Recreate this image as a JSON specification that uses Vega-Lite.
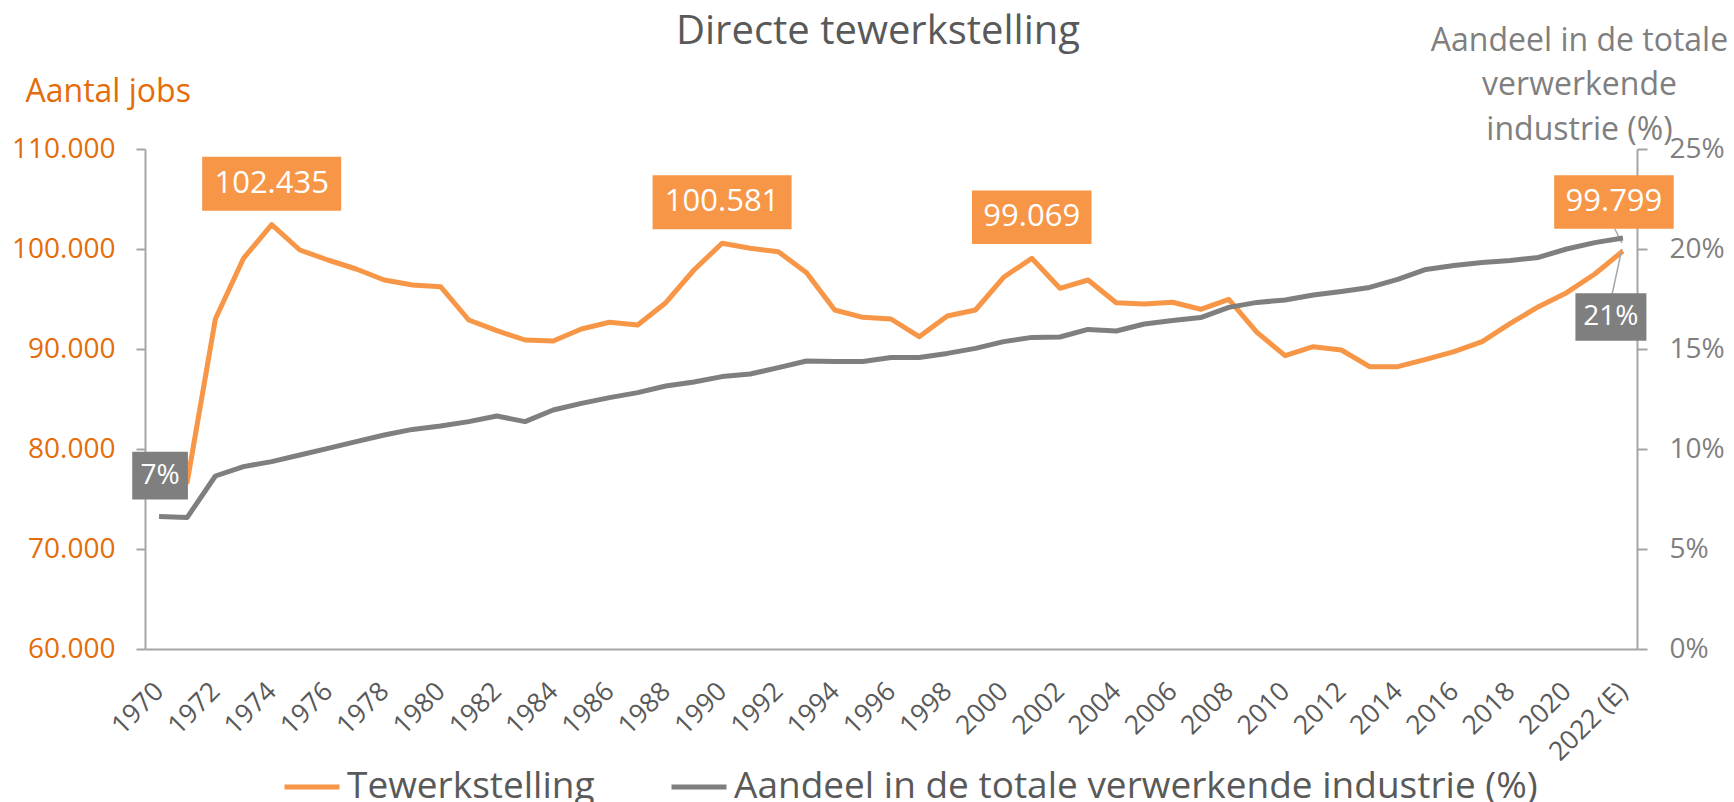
{
  "$schema": "https://vega.github.io/schema/vega-lite/v6.json",
  "width": 1492,
  "height": 500,
  "autosize": {"type": "none"},
  "padding": {"left": 145, "top": 149, "right": 97, "bottom": 153},
  "background": "white",
  "config": {
    "view": {"stroke": null},
    "font": "Open Sans",
    "locale": {"number": {"decimal": ",", "thousands": ".", "grouping": [3], "currency": ["€", ""]}}
  },
  "title": {
    "text": "Directe tewerkstelling",
    "font": "Open Sans",
    "fontSize": 40,
    "fontWeight": "normal",
    "color": "#595959",
    "anchor": "middle",
    "frame": "group",
    "baseline": "alphabetic",
    "dx": -13,
    "offset": -60
  },
  "data": {
    "values": [
      {"year": "1970", "jobs": 76600, "share": 0.0662},
      {"year": "1971", "jobs": 76700, "share": 0.0658},
      {"year": "1972", "jobs": 93000, "share": 0.0865},
      {"year": "1973", "jobs": 99070, "share": 0.0912},
      {"year": "1974", "jobs": 102435, "share": 0.0937},
      {"year": "1975", "jobs": 99900, "share": 0.097},
      {"year": "1976", "jobs": 98900, "share": 0.1003},
      {"year": "1977", "jobs": 98000, "share": 0.1037},
      {"year": "1978", "jobs": 96900, "share": 0.107},
      {"year": "1979", "jobs": 96400, "share": 0.1098},
      {"year": "1980", "jobs": 96230, "share": 0.1115},
      {"year": "1981", "jobs": 92900, "share": 0.1137},
      {"year": "1982", "jobs": 91830, "share": 0.1165},
      {"year": "1983", "jobs": 90900, "share": 0.1137},
      {"year": "1984", "jobs": 90800, "share": 0.1195},
      {"year": "1985", "jobs": 92000, "share": 0.1228},
      {"year": "1986", "jobs": 92670, "share": 0.1257},
      {"year": "1987", "jobs": 92400, "share": 0.1282},
      {"year": "1988", "jobs": 94630, "share": 0.1315},
      {"year": "1989", "jobs": 97900, "share": 0.1335},
      {"year": "1990", "jobs": 100581, "share": 0.1362},
      {"year": "1991", "jobs": 100070, "share": 0.1375},
      {"year": "1992", "jobs": 99730, "share": 0.1407},
      {"year": "1993", "jobs": 97630, "share": 0.144},
      {"year": "1994", "jobs": 93900, "share": 0.1438},
      {"year": "1995", "jobs": 93170, "share": 0.1437},
      {"year": "1996", "jobs": 93000, "share": 0.1457},
      {"year": "1997", "jobs": 91230, "share": 0.1458},
      {"year": "1998", "jobs": 93300, "share": 0.1478},
      {"year": "1999", "jobs": 93900, "share": 0.1503},
      {"year": "2000", "jobs": 97170, "share": 0.1537},
      {"year": "2001", "jobs": 99069, "share": 0.1558},
      {"year": "2002", "jobs": 96070, "share": 0.156},
      {"year": "2003", "jobs": 96900, "share": 0.1598},
      {"year": "2004", "jobs": 94630, "share": 0.159},
      {"year": "2005", "jobs": 94500, "share": 0.1625},
      {"year": "2006", "jobs": 94670, "share": 0.1642},
      {"year": "2007", "jobs": 93970, "share": 0.1657},
      {"year": "2008", "jobs": 94970, "share": 0.1708},
      {"year": "2009", "jobs": 91670, "share": 0.1733},
      {"year": "2010", "jobs": 89330, "share": 0.1745},
      {"year": "2011", "jobs": 90230, "share": 0.177},
      {"year": "2012", "jobs": 89900, "share": 0.1788},
      {"year": "2013", "jobs": 88230, "share": 0.1808},
      {"year": "2014", "jobs": 88230, "share": 0.1848},
      {"year": "2015", "jobs": 88970, "share": 0.1898},
      {"year": "2016", "jobs": 89730, "share": 0.1917},
      {"year": "2017", "jobs": 90730, "share": 0.1933},
      {"year": "2018", "jobs": 92570, "share": 0.1942},
      {"year": "2019", "jobs": 94230, "share": 0.1958},
      {"year": "2020", "jobs": 95630, "share": 0.2},
      {"year": "2021", "jobs": 97500, "share": 0.2032},
      {"year": "2022 (E)", "jobs": 99799, "share": 0.2055}
    ]
  },
  "encoding": {
    "x": {
      "field": "year",
      "type": "ordinal",
      "sort": null,
      "scale": {"type": "point", "padding": 0.5},
      "axis": {
        "title": null,
        "values": ["1970","1972","1974","1976","1978","1980","1982","1984","1986","1988","1990","1992","1994","1996","1998","2000","2002","2004","2006","2008","2010","2012","2014","2016","2018","2020","2022 (E)"],
        "labelAngle": -45,
        "labelAlign": "right",
        "labelBaseline": "middle",
        "labelPadding": 38,
        "labelFontSize": 26.5,
        "labelFont": "Open Sans",
        "labelColor": "#595959",
        "ticks": false,
        "domainColor": "#A6A6A6",
        "domainWidth": 2,
        "grid": false
      }
    }
  },
  "layer": [
    {
      "encoding": {
        "y": {
          "field": "jobs",
          "type": "quantitative",
          "scale": {"domain": [60000, 110000], "nice": false, "zero": false},
          "axis": {
            "orient": "left",
            "values": [60000, 70000, 80000, 90000, 100000, 110000],
            "format": ",d",
            "grid": false,
            "labelFontSize": 28,
            "labelFont": "Open Sans",
            "labelColor": "#E46C0A",
            "labelPadding": 21,
            "tickSize": 9,
            "tickWidth": 2,
            "tickColor": "#A6A6A6",
            "domainColor": "#A6A6A6",
            "domainWidth": 2,
            "title": "Aantal jobs",
            "titleFont": "Open Sans",
            "titleFontSize": 32,
            "titleFontWeight": "normal",
            "titleColor": "#E46C0A",
            "titleAngle": 0,
            "titleAlign": "left",
            "titleBaseline": "alphabetic",
            "titleX": -120,
            "titleY": -48
          }
        }
      },
      "layer": [
        {
          "mark": {"type": "line", "strokeWidth": 5, "strokeJoin": "round", "strokeCap": "butt"},
          "encoding": {
            "color": {
              "datum": "Tewerkstelling",
              "type": "nominal",
              "scale": {"domain": ["Tewerkstelling", "Aandeel in de totale verwerkende industrie (%)"], "range": ["#F79646", "#7F7F7F"]},
              "legend": {
                "orient": "none",
                "legendX": 137,
                "legendY": 608,
                "direction": "horizontal",
                "title": null,
                "symbolType": "stroke",
                "symbolStrokeWidth": 5,
                "symbolSize": 3025,
                "labelFont": "Open Sans",
                "labelFontSize": 37,
                "labelColor": "#595959",
                "labelLimit": 1200,
                "labelOffset": 5,
                "columnPadding": 66
              }
            }
          }
        },
        {
          "transform": [{"filter": {"field": "year", "equal": "2022 (E)"}}],
          "mark": {"type": "rule", "color": "#A6A6A6", "strokeWidth": 1.5, "xOffset": -1, "yOffset": -8, "x2Offset": -8, "y2Offset": -22},
          "encoding": {"x2": {"field": "year"}, "y2": {"field": "jobs"}}
        },
        {
          "transform": [{"filter": {"field": "year", "equal": "2022 (E)"}}],
          "mark": {"type": "rule", "color": "#A6A6A6", "strokeWidth": 1.5, "xOffset": -1, "yOffset": -2, "x2Offset": -11, "y2Offset": 44},
          "encoding": {"x2": {"field": "year"}, "y2": {"field": "jobs"}}
        },
        {
          "transform": [{"filter": {"field": "year", "oneOf": ["1974", "1990"]}}],
          "mark": {"type": "point", "shape": "M-1,-0.3885H1V0.3885H-1Z", "size": 19321, "filled": true, "color": "#F79646", "opacity": 1, "strokeWidth": 0, "yOffset": -41}
        },
        {
          "transform": [{"filter": {"field": "year", "equal": "2001"}}],
          "mark": {"type": "point", "shape": "M-1,-0.4477H1V0.4477H-1Z", "size": 14280, "filled": true, "color": "#F79646", "opacity": 1, "strokeWidth": 0, "yOffset": -41}
        },
        {
          "transform": [{"filter": {"field": "year", "equal": "2022 (E)"}}],
          "mark": {"type": "point", "shape": "M-1,-0.4477H1V0.4477H-1Z", "size": 14280, "filled": true, "color": "#F79646", "opacity": 1, "strokeWidth": 0, "xOffset": -9, "yOffset": -49}
        },
        {
          "transform": [{"filter": {"field": "year", "oneOf": ["1974", "1990", "2001"]}}],
          "mark": {"type": "text", "font": "Open Sans", "fontSize": 31, "color": "white", "align": "center", "baseline": "middle", "yOffset": -41},
          "encoding": {"text": {"field": "jobs", "type": "quantitative", "format": ",d"}}
        },
        {
          "transform": [{"filter": {"field": "year", "equal": "2022 (E)"}}],
          "mark": {"type": "text", "font": "Open Sans", "fontSize": 31, "color": "white", "align": "center", "baseline": "middle", "xOffset": -9, "yOffset": -49},
          "encoding": {"text": {"field": "jobs", "type": "quantitative", "format": ",d"}}
        }
      ]
    },
    {
      "encoding": {
        "y": {
          "field": "share",
          "type": "quantitative",
          "scale": {"domain": [0, 0.25], "nice": false},
          "axis": {
            "orient": "right",
            "values": [0, 0.05, 0.1, 0.15, 0.2, 0.25],
            "format": ".0%",
            "grid": false,
            "labelFontSize": 28,
            "labelFont": "Open Sans",
            "labelColor": "#7F7F7F",
            "labelPadding": 22,
            "tickSize": 10,
            "tickWidth": 2,
            "tickColor": "#A6A6A6",
            "domainColor": "#A6A6A6",
            "domainWidth": 2,
            "title": ["Aandeel in de totale", "verwerkende", "industrie (%)"],
            "titleFont": "Open Sans",
            "titleFontSize": 32,
            "titleFontWeight": "normal",
            "titleColor": "#7F7F7F",
            "titleAngle": 0,
            "titleAlign": "center",
            "titleBaseline": "alphabetic",
            "titleLineHeight": 44.7,
            "titleX": -58,
            "titleY": -99
          }
        }
      },
      "layer": [
        {
          "mark": {"type": "line", "strokeWidth": 5, "strokeJoin": "round", "strokeCap": "butt"},
          "encoding": {
            "color": {"datum": "Aandeel in de totale verwerkende industrie (%)", "type": "nominal"}
          }
        },
        {
          "transform": [{"filter": {"field": "year", "equal": "1970"}}],
          "mark": {"type": "point", "shape": "M-1,-0.8546H1V0.8546H-1Z", "size": 3102, "filled": true, "color": "#7F7F7F", "opacity": 1, "strokeWidth": 0, "xOffset": 1, "yOffset": -41}
        },
        {
          "transform": [{"filter": {"field": "year", "equal": "2022 (E)"}}],
          "mark": {"type": "point", "shape": "M-1,-0.6718H1V0.6718H-1Z", "size": 5041, "filled": true, "color": "#7F7F7F", "opacity": 1, "strokeWidth": 0, "xOffset": -12, "yOffset": 79}
        },
        {
          "transform": [{"filter": {"field": "year", "equal": "1970"}}],
          "mark": {"type": "text", "font": "Open Sans", "fontSize": 28, "color": "white", "align": "center", "baseline": "middle", "xOffset": 1, "yOffset": -41},
          "encoding": {"text": {"field": "share", "type": "quantitative", "format": ".0%"}}
        },
        {
          "transform": [{"filter": {"field": "year", "equal": "2022 (E)"}}],
          "mark": {"type": "text", "font": "Open Sans", "fontSize": 28, "color": "white", "align": "center", "baseline": "middle", "xOffset": -12, "yOffset": 79},
          "encoding": {"text": {"field": "share", "type": "quantitative", "format": ".0%"}}
        }
      ]
    }
  ],
  "resolve": {"scale": {"y": "independent"}, "axis": {"y": "independent"}}
}
